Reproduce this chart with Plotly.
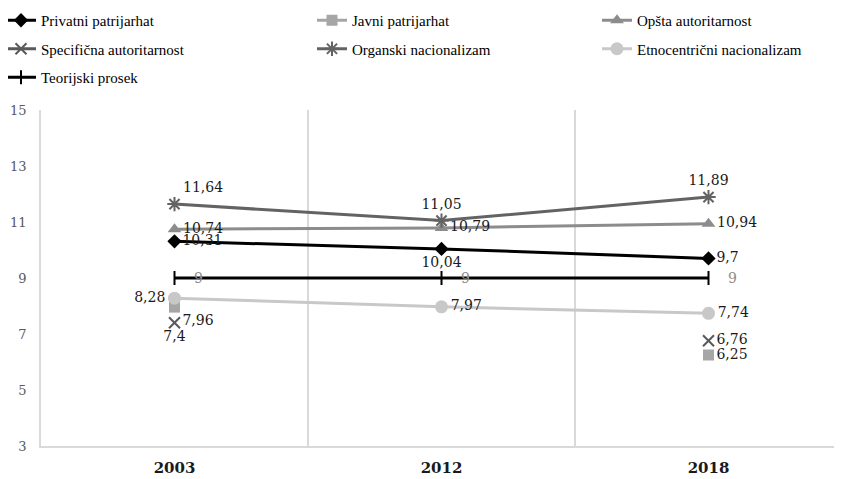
import plotly.graph_objects as go

years = ["2003", "2012", "2018"]
privatni = [10.31, 10.04, 9.70]
javni = [7.96, None, 6.25]
opsta = [10.74, 10.79, 10.94]
specificna = [7.40, None, 6.76]
organski = [11.64, 11.05, 11.89]
etno = [8.28, 7.97, 7.74]
teorijski = [9, 9, 9]

names = ["Privatni patrijarhat", "Javni patrijarhat", "Opšta autoritarnost",
         "Specifična autoritarnost", "Organski nacionalizam",
         "Etnocentrični nacionalizam", "Teorijski prosek"]

def lab(vals):
    return ["" if v is None else f"{v:g}".replace(".", ",") for v in vals]

series = [
    dict(y=privatni, name=names[0], color="#000000", symbol="diamond", size=11,
         lw=3, pos=["middle right", "bottom center", "middle right"], legend="legend", tc="#1a1a1a"),
    dict(y=javni, name=names[1], color="#a6a6a6", symbol="square", size=11,
         lw=3, pos=["bottom right", "middle right", "middle right"], legend="legend2", tc="#1a1a1a"),
    dict(y=opsta, name=names[2], color="#8c8c8c", symbol="triangle-up", size=12,
         lw=3, pos=["middle right", "middle right", "middle right"], legend="legend3", tc="#1a1a1a"),
    dict(y=specificna, name=names[3], color="#595959", symbol="x-thin-open", size=11,
         lw=3, pos=["bottom center", "middle right", "middle right"], legend="legend", tc="#1a1a1a"),
    dict(y=organski, name=names[4], color="#636363", symbol="asterisk-open", size=12,
         lw=3, pos=["top right", "top center", "top center"], legend="legend2", tc="#1a1a1a"),
    dict(y=etno, name=names[5], color="#c8c8c8", symbol="circle", size=13,
         lw=3, pos=["middle left", "middle right", "middle right"], legend="legend3", tc="#1a1a1a"),
]

fig = go.Figure()
for s in series:
    open_sym = s["symbol"].endswith("open")
    fig.add_trace(go.Scatter(
        x=years, y=s["y"], name=s["name"], mode="lines+markers+text",
        line=dict(color=s["color"], width=s["lw"]),
        marker=dict(symbol=s["symbol"], size=s["size"], color=s["color"],
                    line=dict(color=s["color"], width=2 if open_sym else 0)),
        text=lab(s["y"]), textposition=s["pos"],
        textfont=dict(family="DejaVu Serif", size=14, color=s["tc"]),
        connectgaps=False, legend=s["legend"], legendgroup=s["name"],
        cliponaxis=False,
    ))

# theoretical mean: line with vertical tick markers, labels placed further right
fig.add_trace(go.Scatter(
    x=years, y=teorijski, name=names[6], mode="lines+markers",
    line=dict(color="#000000", width=3),
    marker=dict(symbol="line-ns-open", size=10, color="#000000",
                line=dict(color="#000000", width=2)),
    legend="legend", legendgroup=names[6], cliponaxis=False,
))
for i, (v, t) in enumerate(zip(teorijski, lab(teorijski))):
    fig.add_annotation(x=i, y=v, xref="x", yref="y", text=t, showarrow=False,
                       xanchor="left", xshift=17,
                       font=dict(family="DejaVu Serif", size=14, color="#8c8c8c"))

# plot area in figure pixels: left 33, right 834, top 102, bottom 438
PW, PH, ML, MT = 801.0, 336.0, 33.0, 102.0
legend_common = dict(
    orientation="v", xref="paper", yref="paper", yanchor="top",
    xanchor="left", y=1 + (MT + 4) / PH, tracegroupgap=6, traceorder="grouped",
    font=dict(family="Liberation Serif", size=15, color="#000000"),
    bgcolor="rgba(0,0,0,0)", itemwidth=30,
)

fig.update_layout(
    width=842, height=479,
    margin=dict(l=33, r=8, t=102, b=41, autoexpand=False),
    paper_bgcolor="white", plot_bgcolor="white",
    showlegend=True,
    legend=dict(legend_common, x=(-7 - ML) / PW),
    legend2=dict(legend_common, x=(304 - ML) / PW),
    legend3=dict(legend_common, x=(589 - ML) / PW),
    xaxis=dict(
        type="category", range=[-0.5, 2.5], tickson="boundaries",
        showgrid=True, gridcolor="#d9d9d9", gridwidth=1.5,
        showline=True, linecolor="#d9d9d9", linewidth=1.5,
        ticks="", ticklabelstandoff=7,
        tickfont=dict(family="DejaVu Serif", size=15, color="#1a1a1a", weight="bold"),
        zeroline=False,
    ),
    yaxis=dict(
        range=[3, 15], tickvals=[3, 5, 7, 9, 11, 13, 15],
        showgrid=False, zeroline=False,
        showline=True, linecolor="#d9d9d9", linewidth=1.5,
        ticks="", ticklabelstandoff=10,
        tickfont=dict(family="DejaVu Serif", size=13, color="#595959"),
    ),
)

fig.write_html("out.html")
